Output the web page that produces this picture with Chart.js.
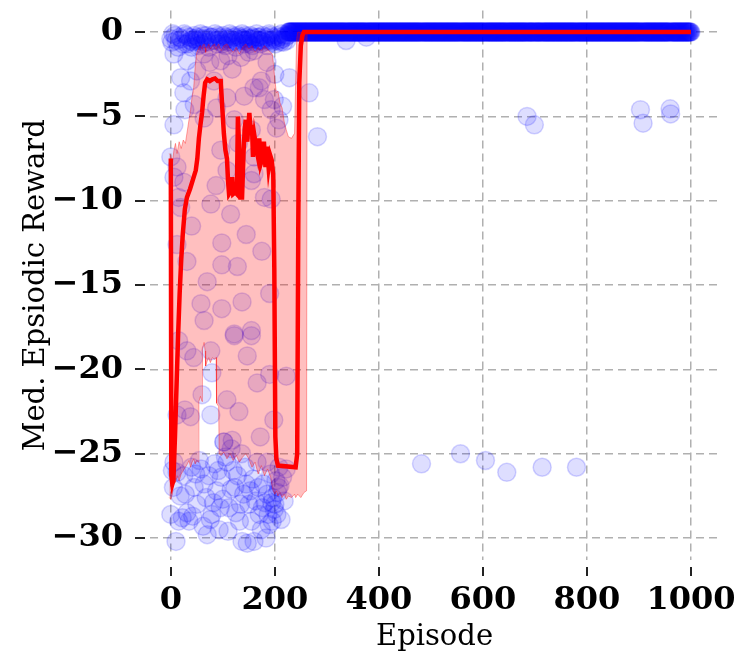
<!DOCTYPE html>
<html>
<head>
<meta charset="utf-8">
<script src="https://cdn.jsdelivr.net/npm/chart.js@4.4.1/dist/chart.umd.min.js"></script>
<style>
  html, body { margin: 0; padding: 0; background: #fff; }
  #wrap { width: 739px; height: 657px; }
</style>
</head>
<body>
<div id="wrap"><canvas id="chart" width="739" height="657"></canvas></div>
<script>
// axis ticks
const xTicks = [0, 200, 400, 600, 800, 1000];
const yTicks = [-30, -25, -20, -15, -10, -5, 0];

// raw episodic rewards, early (noisy) phase: [episode, reward]
const earlyPoints = [
    // near zero row
    [2, -0.6], [8, -0.2], [14, -0.9], [20, -0.4], [26, -0.1], [31, -0.7], [36, -0.3], [40, -0.9],
    [45, -0.2], [49, -0.5], [53, -0.8], [57, -0.1], [61, -0.4], [65, -0.6], [69, -0.2], [73, -0.9],
    [77, -0.3], [81, -0.5], [85, -0.1], [89, -0.7], [93, -0.3], [97, -0.6], [101, -0.2], [105, -0.8],
    [109, -0.4], [113, -0.1], [117, -0.6], [121, -0.3], [125, -0.9], [129, -0.2], [133, -0.5], [137, -0.1],
    [141, -0.7], [145, -0.3], [149, -0.6], [153, -0.2], [157, -0.8], [161, -0.4], [165, -0.1], [169, -0.5],
    [173, -0.7], [177, -0.2], [181, -0.4], [185, -0.8], [189, -0.1], [193, -0.5], [197, -0.3], [201, -0.7],
    [205, -0.2], [209, -0.5], [213, -0.1], [217, -0.6], [221, -0.3], [225, -0.2],
    [38, -0.5], [42, -0.6], [47, -0.4], [51, -0.3], [135, -0.4], [140, -0.5], [150, -0.4], [158, -0.3],
    [170, -0.3], [175, -0.5], [0, -0.4], [4, -0.1],
    [10, -0.5], [17, -0.3], [23, -0.7], [29, -0.2], [34, -0.6], [44, -0.4], [55, -0.5], [59, -0.7],
    [63, -0.2], [67, -0.4], [71, -0.6], [79, -0.3], [87, -0.5], [91, -0.2], [95, -0.4], [99, -0.7],
    [103, -0.5], [107, -0.3], [111, -0.6], [115, -0.4], [119, -0.2], [123, -0.5], [127, -0.6], [131, -0.3],
    [139, -0.4], [143, -0.2], [147, -0.5], [151, -0.7], [155, -0.4], [163, -0.6], [167, -0.3], [171, -0.5],
    [179, -0.6], [183, -0.3], [187, -0.5], [191, -0.2], [195, -0.6], [199, -0.4], [203, -0.5], [207, -0.3],
    [211, -0.6], [215, -0.4], [219, -0.2], [223, -0.5],
    // -1 .. -3
    [6, -1.3], [19, -2.7], [31, -1.7], [50, -2.3], [38, -2.9], [64, -1.3], [83, -2.9], [96, -1.7],
    [118, -2.2], [135, -1.5], [150, -1.2], [160, -1.1], [174, -2.9], [185, -1.8], [200, -2.5], [228, -2.7],
    [110, -1.4], [75, -1.8],
    // -3 .. -8
    [25, -3.6], [6, -5.5], [0, -7.4], [12, -8.0], [27, -4.6], [108, -3.9], [64, -5.1], [122, -5.2],
    [141, -3.8], [180, -4.0], [193, -4.6], [155, -5.8], [96, -7.0], [160, -7.4], [108, -8.2], [199, -4.0],
    [203, -5.7], [208, -5.2], [266, -3.6], [282, -6.2], [88, -4.5], [130, -6.6], [170, -3.3], [160, -3.3],
    [45, -4.3], [215, -4.4],
    // -8 .. -18
    [6, -8.6], [25, -8.9], [15, -9.8], [87, -9.1], [77, -10.2], [19, -10.4], [180, -9.8], [193, -9.9],
    [155, -8.8], [160, -8.4], [98, -12.5], [98, -13.8], [128, -13.9], [31, -13.6], [12, -12.6], [58, -16.1],
    [64, -17.1], [98, -16.4], [137, -16.0], [122, -17.9], [155, -17.7], [40, -11.5], [70, -14.8], [115, -10.8],
    [145, -12.0], [175, -13.0], [190, -15.5],
    // -18 .. -24
    [122, -18.0], [155, -18.0], [147, -19.2], [166, -20.8], [79, -20.2], [77, -18.9], [44, -19.3], [31, -18.9],
    [15, -18.3], [108, -21.8], [118, -24.2], [102, -24.3], [77, -22.7], [38, -22.8], [27, -22.4], [12, -22.7],
    [190, -20.3], [198, -23.0], [60, -21.5], [172, -24.0], [222, -20.4], [131, -22.5],
    // -24 .. -30
    [0, -28.6], [3, -26.0], [6, -25.5], [10, -30.2], [12, -26.1], [18, -27.5], [22, -28.8], [25, -26.3],
    [31, -28.5], [35, -29.0], [40, -25.8], [45, -27.0], [50, -28.0], [55, -25.4], [58, -25.9], [62, -29.3],
    [64, -26.8], [68, -27.6], [73, -26.3], [76, -28.9], [79, -28.6], [84, -25.6], [88, -27.2], [93, -29.5],
    [97, -26.4], [100, -27.7], [102, -24.3], [105, -25.2], [108, -25.5], [112, -28.2], [116, -27.1], [116, -24.7],
    [120, -26.0], [125, -28.5], [128, -26.3], [132, -29.0], [137, -30.2], [140, -27.4], [143, -25.8], [147, -30.3],
    [150, -28.0], [155, -29.0], [158, -26.5], [160, -30.2], [163, -27.8], [166, -25.5], [170, -28.6], [174, -29.5],
    [178, -26.8], [181, -27.9], [185, -27.4], [185, -25.5], [189, -29.2], [192, -26.2], [195, -29.0], [199, -28.3],
    [202, -26.6], [205, -27.3], [208, -25.8], [212, -28.9], [215, -26.4], [218, -27.8], [222, -25.9], [136, -25.0],
    [196, -27.6], [200, -28.0], [204, -28.6], [207, -27.0],
    [5, -27.0], [15, -29.0], [28, -27.4], [42, -28.7], [48, -26.2], [70, -29.8], [82, -27.9], [91, -26.0],
    [95, -28.2], [110, -29.6], [123, -27.0], [134, -28.0], [145, -26.8], [153, -27.2], [168, -27.0], [176, -28.2],
    [183, -30.0], [187, -28.6], [194, -27.9], [210, -26.9]
];

// late phase: every episode from zeroStart on scores 0 except these
const zeroStart = 226;
const lateEp = [337, 376, 482, 557, 605, 646, 685, 699, 714, 780, 903, 908, 960, 961];
const lateReward = [-0.5, -0.3, -25.6, -25.0, -25.4, -26.1, -5.0, -5.5, -25.8, -25.8, -4.6, -5.4, -4.55, -4.85];

// rolling median
const medEp = [0, 1, 3, 5, 8, 10, 12, 14, 17, 20, 23, 27, 31, 37, 44, 48, 51, 54, 57, 60,
    63, 66, 70, 75, 80, 85, 90, 96, 99, 102, 105, 108, 110, 112, 116, 118, 120, 124, 127, 129,
    131, 134, 137, 140, 142, 144, 147, 149, 151, 154, 156, 158, 161, 164, 167, 170, 173, 176, 179, 182,
    185, 188, 191, 194, 197, 199, 201, 203, 206, 240, 243, 245, 247, 250, 253, 256, 1000];
const medVal = [-7.5, -26.3, -26.8, -26.6, -24.0, -22.0, -20.0, -18.0, -15.5, -13.5,
    -12.0, -10.5, -9.8, -9.3, -8.6, -8.2, -7.5, -6.3, -5.5, -4.8,
    -3.8, -3.0, -2.8, -2.9, -2.8, -2.75, -2.9, -2.9, -4.5, -6.0,
    -7.0, -7.5, -8.8, -9.6, -9.4, -8.6, -9.6, -9.5, -9.6, -5.0,
    -6.5, -9.8, -9.8, -7.0, -5.8, -5.2, -6.5, -5.6, -4.8, -6.0,
    -5.5, -7.4, -6.2, -6.8, -7.3, -6.3, -7.8, -7.5, -6.5, -8.0,
    -6.8, -8.0, -7.3, -7.6, -8.5, -14.0, -24.0, -25.3, -25.7, -25.8,
    -25.0, -12.0, -3.0, -0.8, -0.2, 0, 0];

// percentile band
const bandEp = [-3, 0, 3, 6, 9, 12, 16, 20, 24, 28, 32, 35, 38, 41, 44, 47, 50, 53, 54, 57,
    60, 61, 64, 66, 67, 70, 73, 76, 80, 84, 87, 88, 92, 93, 97, 102, 108, 114, 120, 126,
    132, 138, 144, 150, 156, 162, 168, 174, 180, 186, 192, 195, 197, 200, 203, 206, 210, 214, 218, 222,
    226, 232, 238, 240, 242, 244, 250, 256, 261, 262];
const bandHigh = [-7.2, -7.3, -7.8, -7.0, -6.6, -7.2, -6.5, -6.9, -6.4, -6.6, -5.8, -5.2, -4.6, -3.8, -3.3, -2.0, -1.2, -1.0, -0.9, -0.8,
    -1.0, -0.8, -0.7, -0.9, -1.2, -0.9, -0.7, -1.0, -0.8, -0.7, -1.0, -0.9, -0.7, -0.8, -1.1, -0.8, -0.7, -1.0, -1.2, -0.9,
    -1.3, -0.9, -0.7, -1.0, -0.8, -1.2, -0.9, -1.1, -0.8, -1.0, -1.2, -1.3, -1.8, -2.8, -3.6, -3.5, -4.2, -4.5, -5.3, -5.8,
    -6.2, -6.3, -6.0, -3.0, -0.4, 0, 0, 0, 0, 0];
const bandLow = [-27.6, -27.7, -27.4, -26.5, -26.7, -26.3, -26.6, -26.2, -26.0, -25.8, -25.6, -25.4, -25.8, -25.5, -25.3, -25.6, -25.4, -25.5, -21.9, -21.6,
    -21.9, -18.8, -18.4, -18.9, -19.8, -19.5, -19.3, -19.6, -19.3, -19.4, -19.3, -22.0, -22.2, -25.0, -25.1, -24.9, -25.3, -25.0, -25.4, -25.1,
    -25.5, -25.2, -25.0, -25.3, -25.8, -25.5, -26.2, -25.7, -26.3, -25.9, -26.4, -27.0, -27.2, -27.4, -27.2, -27.5, -27.3, -27.6, -27.4, -27.7,
    -27.5, -27.6, -27.4, -27.6, -27.5, -27.4, -27.6, -27.3, -27.2, 0];

const SERIF = "'DejaVu Serif', 'Liberation Serif', serif";

// build scatter data
const scatterData = earlyPoints.map(p => ({ x: p[0], y: p[1] }));
for (let ep = zeroStart; ep <= 1000; ep++) {
    const k = lateEp.indexOf(ep);
    scatterData.push({ x: ep, y: k >= 0 ? lateReward[k] : 0 });
}

const medData = medEp.map((e, i) => ({ x: e, y: medVal[i] }));
const lowData = bandEp.map((e, i) => ({ x: e, y: bandLow[i] }));
const highData = bandEp.map((e, i) => ({ x: e, y: bandHigh[i] }));

// dark tick marks set apart from the plot, like an offset spine
const offsetTicks = {
    id: 'offsetTicks',
    afterDraw(chart) {
        const ctx = chart.ctx;
        const xs = chart.scales.x, ys = chart.scales.y;
        const area = chart.chartArea;
        ctx.save();
        ctx.strokeStyle = '#222';
        ctx.lineWidth = 2;
        ctx.setLineDash([]);
        ctx.beginPath();
        xTicks.forEach(v => {
            const px = Math.round(xs.getPixelForValue(v));
            ctx.moveTo(px, area.bottom + 7);
            ctx.lineTo(px, area.bottom + 16);
        });
        yTicks.forEach(v => {
            const py = Math.round(ys.getPixelForValue(v));
            ctx.moveTo(area.left - 15, py);
            ctx.lineTo(area.left - 5, py);
        });
        ctx.stroke();
        ctx.restore();
    }
};

new Chart(document.getElementById('chart'), {
    type: 'scatter',
    data: {
        datasets: [
            {
                label: 'Reward',
                data: scatterData,
                backgroundColor: 'rgba(0, 0, 255, 0.13)',
                borderColor: 'rgba(0, 0, 255, 0.17)',
                borderWidth: 1.5,
                pointRadius: 9,
                order: 3
            },
            {
                label: 'Low',
                type: 'line',
                data: lowData,
                borderColor: 'rgba(255, 0, 0, 0.35)',
                borderWidth: 1,
                pointRadius: 0,
                fill: false,
                order: 2
            },
            {
                label: 'High',
                type: 'line',
                data: highData,
                borderColor: 'rgba(255, 0, 0, 0.35)',
                borderWidth: 1,
                pointRadius: 0,
                backgroundColor: 'rgba(255, 0, 0, 0.25)',
                fill: '-1',
                order: 1
            },
            {
                label: 'Median',
                type: 'line',
                data: medData,
                borderColor: '#ff0000',
                borderWidth: 4.5,
                pointRadius: 0,
                fill: false,
                order: 0
            }
        ]
    },
    options: {
        responsive: false,
        animation: false,
        layout: { padding: { top: 1, right: 20, left: 0, bottom: 0 } },
        plugins: {
            legend: { display: false },
            tooltip: { enabled: false }
        },
        scales: {
            x: {
                type: 'linear',
                min: -40,
                max: 1054,
                afterFit: s => {
                    s.height = 97;
                    s.paddingLeft = 0;
                    s.paddingRight = 0;
                },
                border: { display: false, dash: [8, 5] },
                grid: {
                    color: '#b0b0b0',
                    lineWidth: 1.5,
                    drawTicks: true,
                    tickLength: 8,
                    tickColor: 'rgba(0,0,0,0)'
                },
                ticks: {
                    stepSize: 200,
                    includeBounds: false,
                    padding: 13,
                    color: '#000',
                    font: { family: SERIF, size: 32, weight: 'bold' },
                    maxRotation: 0,
                    callback: v => String(v)
                },
                title: {
                    display: true,
                    text: 'Episode',
                    color: '#000',
                    font: { family: SERIF, size: 29 },
                    padding: { top: 0, bottom: 2 }
                }
            },
            y: {
                type: 'linear',
                min: -31.3,
                max: 1.28,
                afterFit: s => {
                    s.width = 150;
                    s.paddingTop = 0;
                    s.paddingBottom = 0;
                },
                border: { display: false, dash: [8, 5] },
                grid: {
                    color: '#b0b0b0',
                    lineWidth: 1.5,
                    drawTicks: true,
                    tickLength: 12,
                    tickColor: 'rgba(0,0,0,0)'
                },
                ticks: {
                    stepSize: 5,
                    includeBounds: false,
                    padding: 15,
                    color: '#000',
                    font: { family: SERIF, size: 32, weight: 'bold' },
                    callback: v => String(v).replace('-', '\u2212')
                },
                title: {
                    display: true,
                    text: 'Med. Epsiodic Reward',
                    color: '#000',
                    font: { family: SERIF, size: 29 },
                    padding: { top: 19, bottom: 0 }
                }
            }
        }
    },
    plugins: [offsetTicks]
});
</script>
</body>
</html>
